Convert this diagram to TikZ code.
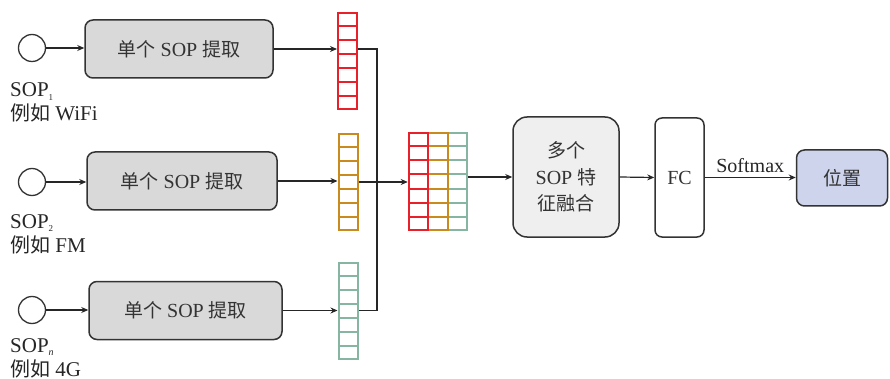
\documentclass[tikz,border=0pt]{standalone}
\usepackage{fontspec}
\setmainfont{Liberation Serif}
\newfontfamily\cjk[Scale=0.95]{Noto Sans CJK SC}
\usetikzlibrary{arrows.meta,calc}

\definecolor{vred}{HTML}{E8202A}
\definecolor{vorange}{HTML}{C98A1E}
\definecolor{vgreen}{HTML}{86B5A2}
\definecolor{boxgray}{HTML}{D9D9D9}
\definecolor{fusegray}{HTML}{EFEFEF}
\definecolor{posblue}{HTML}{CDD4EC}
\definecolor{ink}{HTML}{333333}

% horizontal rules that split a feature vector into 7 cells
\newcommand\cellrules[2]{%
  \foreach \k in {1,...,6}
    \draw[#2, line width=2pt]
      ($(#1.north west)!\k/7!(#1.south west)$) -- ($(#1.north east)!\k/7!(#1.south east)$);}

\begin{document}
\begin{tikzpicture}[x=1pt,y=-1pt,
  src/.style={circle, draw=ink, line width=1.3pt, minimum size=27pt, inner sep=0pt},
  single/.style={rectangle, rounded corners=8pt, draw=ink, line width=1.5pt, fill=boxgray,
    minimum height=58pt, font=\fontsize{20}{24}\selectfont, text=ink},
  vec/.style={rectangle, draw, line width=2pt, fill=white, minimum width=19pt,
    minimum height=96pt, inner sep=0pt},
  stage/.style={rectangle, draw=ink, line width=1.5pt, align=center,
    font=\fontsize{20}{26.5}\selectfont, text=ink},
  arr/.style={-{Stealth[length=7pt,width=6pt]}, line width=1.2pt, draw=black!85},
  wire/.style={line width=1.2pt, draw=black!85},
  lab/.style={anchor=base west, font=\fontsize{21}{24}\selectfont, inner sep=0pt, text=black!85}]

\useasboundingbox (0,0) rectangle (890,379);

% sources
\node[src] (c1) at (32,48) {};
\node[src] (c2) at (32,182) {};
\node[src] (c3) at (32,310) {};

\node[lab] (l1a) at (10,97) {SOP\raisebox{-0.35ex}{\fontsize{9}{9}\selectfont 1}};
\node[lab] (l1b) at (10,121) {{\cjk 例如} WiFi};
\node[lab] (l2a) at (10,228) {SOP\raisebox{-0.35ex}{\fontsize{9}{9}\selectfont 2}};
\node[lab] (l2b) at (10,252) {{\cjk 例如} FM};
\node[lab] (l3a) at (10,352) {SOP\raisebox{-0.35ex}{\fontsize{10}{10}\selectfont\itshape n}};
\node[lab] (l3b) at (10,376) {{\cjk 例如} 4G};

% single-SOP extractors
\node[single, minimum width=188pt] (b1) at (179,49) {{\cjk 单个} SOP {\cjk 提取}};
\node[single, minimum width=190pt] (b2) at (182,181) {{\cjk 单个} SOP {\cjk 提取}};
\node[single, minimum width=193pt] (b3) at (185.5,310.5) {{\cjk 单个} SOP {\cjk 提取}};

% per-source feature vectors
\node[vec, draw=vred] (v1) at (347.5,61) {};
\cellrules{v1}{vred}
\node[vec, draw=vorange] (v2) at (348,182) {};
\cellrules{v2}{vorange}
\node[vec, draw=vgreen] (v3) at (348,310.5) {};
\cellrules{v3}{vgreen}

% concatenated features
\node[vec, draw=vgreen, minimum width=19.5pt, minimum height=97pt] (cg) at (457.5,181.5) {};
\cellrules{cg}{vgreen}
\node[vec, draw=vorange, minimum width=19.5pt, minimum height=97pt] (co) at (438,181.5) {};
\cellrules{co}{vorange}
\node[vec, draw=vred, minimum width=19.5pt, minimum height=97pt] (cr) at (418.5,181.5) {};
\cellrules{cr}{vred}

% fusion, FC, output
\node[stage, rounded corners=14pt, fill=fusegray, minimum width=106pt, minimum height=120pt]
  (fuse) at (566,177) {{\cjk 多个}\\SOP {\cjk 特}\\{\cjk 征融合}};
\node[stage, rounded corners=7pt, fill=white, minimum width=49pt, minimum height=119pt]
  (fc) at (679.5,177.5) {FC};
\node[stage, rounded corners=8pt, fill=posblue, minimum width=91pt, minimum height=56pt]
  (pos) at (842,178) {{\cjk 位置}};

% connectors
\draw[arr] (c1.east) -- (c1.east -| b1.west);
\draw[arr] (c2.east) -- (c2.east -| b2.west);
\draw[arr] (c3.east) -- (c3.east -| b3.west);
\draw[arr] (b1.east) -- (b1.east -| v1.west);
\draw[arr] (b2.east) -- (b2.east -| v2.west);
\draw[arr] (b3.east) -- (b3.east -| v3.west);

\coordinate (bus1) at (377,49);
\coordinate (bus3) at (377,310.5);
\draw[wire] (v1.east |- bus1) -- (bus1) -- (bus3) -- (v3.east);
\draw[arr] (v2.east) -- (v2.east -| cr.west);

\draw[arr] (cg.east |- fuse.west) -- (fuse.west);
\draw[arr] (fuse.east) -- (fc.west);
\draw[arr] (fc.east) -- node[above=1pt, font=\fontsize{20}{24}\selectfont, text=black!85] (sm) {Softmax} (pos.west |- fc.east);

\end{tikzpicture}
\end{document}
